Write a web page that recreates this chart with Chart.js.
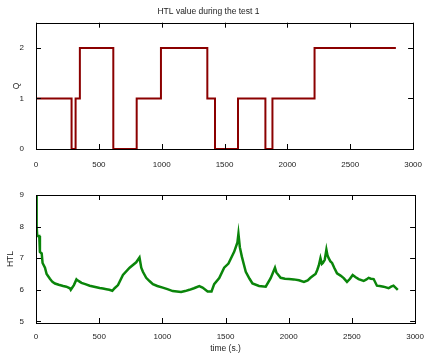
<!DOCTYPE html>
<html>
<head>
<meta charset="utf-8">
<script src="https://cdn.jsdelivr.net/npm/chart.js@4.4.0/dist/chart.umd.min.js"></script>
<style>
  html, body { margin: 0; padding: 0; background: #fff; }
  #wrap { position: relative; width: 425px; height: 356px; }
  #topBox { position: absolute; left: 0; top: 0; width: 425px; height: 170px; }
  #botBox { position: absolute; left: 0; top: 170px; width: 425px; height: 186px; }
</style>
</head>
<body>
<div id="wrap">
  <div id="topBox"><canvas id="qChart"></canvas></div>
  <div id="botBox"><canvas id="htlChart"></canvas></div>
</div>
<script>
// ----- data -----
const xTicks = [0, 500, 1000, 1500, 2000, 2500, 3000];
const qTicks = [0, 1, 2];
const htlTicks = [5, 6, 7, 8, 9];

// Q steps: each value holds from its time until the next time
const qTimes  = [0, 283, 315, 349, 615, 801, 994, 1363, 1424, 1607, 1825, 1881, 2216, 2863];
const qValues = [1, 0,   1,   2,   0,   1,   2,   1,    0,    1,    0,    1,    2,    2];

const htlTimes  = [0, 5, 10, 26, 31, 45, 52, 71, 84, 110, 130, 150, 180, 215, 240, 268, 275, 300, 320, 328, 345, 360, 390, 425, 460, 504, 530, 557, 580, 604,
                   622, 649, 688, 741, 793, 819, 833, 846, 872, 900, 925, 960, 1003, 1040, 1082, 1148, 1180, 1214, 1250, 1292, 1318, 1358, 1389,
                   1410, 1450, 1489, 1523, 1568, 1594, 1602, 1613, 1629, 1645, 1660, 1690, 1713, 1765, 1818, 1857, 1891, 1902,
                   1936, 1970, 2002, 2040, 2081, 2120, 2150, 2172, 2195, 2212, 2225, 2238, 2251, 2262, 2270, 2285, 2298, 2306, 2316, 2330, 2343, 2360, 2382, 2410, 2435, 2461,
                   2485, 2506, 2530, 2553, 2593, 2615, 2632, 2650, 2672, 2698, 2720, 2750, 2790, 2810, 2829, 2863];
const htlValues = [9.0, 8.0, 7.7, 7.7, 7.2, 7.15, 6.85, 6.7, 6.5, 6.35, 6.25, 6.2, 6.16, 6.12, 6.1, 6.05, 6.0, 6.15, 6.33, 6.3, 6.26, 6.22, 6.18, 6.13, 6.1, 6.06, 6.04, 6.02, 6.0, 5.97,
                   6.05, 6.15, 6.47, 6.7, 6.87, 7.02, 6.7, 6.57, 6.38, 6.27, 6.18, 6.12, 6.07, 6.02, 5.96, 5.93, 5.96, 6.0, 6.05, 6.12, 6.07, 5.95, 5.95,
                   6.18, 6.37, 6.7, 6.83, 7.2, 7.5, 7.77, 7.35, 7.05, 6.8, 6.57, 6.35, 6.2, 6.12, 6.1, 6.37, 6.7, 6.55,
                   6.38, 6.35, 6.34, 6.33, 6.3, 6.25, 6.3, 6.38, 6.45, 6.5, 6.62, 6.77, 7.0, 6.82, 6.85, 6.95, 7.27, 7.1, 7.0, 6.9, 6.85, 6.7, 6.52, 6.45, 6.37, 6.25,
                   6.35, 6.47, 6.4, 6.34, 6.28, 6.33, 6.38, 6.35, 6.34, 6.13, 6.12, 6.1, 6.05, 6.1, 6.13, 6.0];

const FONT = "'Liberation Sans', Arial, sans-serif";
const TEXT = '#222';
const TICK_FONT = { family: FONT, size: 8 };

// ----- box + inward ticks on all four sides, gnuplot style -----
const frame = {
  id: 'frame',
  afterDraw(chart) {
    const { ctx, chartArea: a, scales } = chart;
    ctx.save();
    ctx.strokeStyle = '#000';
    ctx.lineWidth = 1;
    ctx.strokeRect(Math.round(a.left) + 0.5, Math.round(a.top) + 0.5,
                   Math.round(a.right - a.left), Math.round(a.bottom - a.top));
    const len = 5;
    ctx.beginPath();
    scales.x.ticks.forEach(t => {
      const px = Math.round(scales.x.getPixelForValue(t.value)) + 0.5;
      ctx.moveTo(px, a.bottom); ctx.lineTo(px, a.bottom - len);
      ctx.moveTo(px, a.top); ctx.lineTo(px, a.top + len);
    });
    scales.y.ticks.forEach(t => {
      const py = Math.round(scales.y.getPixelForValue(t.value)) + 0.5;
      ctx.moveTo(a.left, py); ctx.lineTo(a.left + len, py);
      ctx.moveTo(a.right, py); ctx.lineTo(a.right - len, py);
    });
    ctx.stroke();
    ctx.restore();
  }
};

function xScale(height, pad, title) {
  return {
    type: 'linear', min: 0, max: 3000,
    grid: { display: false }, border: { display: false },
    afterBuildTicks: s => { s.ticks = xTicks.map(v => ({ value: v })); },
    afterFit: s => { s.height = height; },
    ticks: { color: TEXT, font: TICK_FONT, maxRotation: 0, autoSkip: false, padding: pad, callback: v => String(v) },
    title: title || { display: false }
  };
}

function yScale(min, max, tickVals, label, titlePad) {
  return {
    min, max,
    grid: { display: false }, border: { display: false },
    afterBuildTicks: s => { s.ticks = tickVals.map(v => ({ value: v })); },
    afterFit: s => { s.width = 36; },
    ticks: { color: TEXT, font: TICK_FONT, padding: 4, callback: v => String(v) },
    title: { display: true, text: label, color: TEXT, font: { family: FONT, size: 8.5 }, padding: { top: titlePad, bottom: 0 } }
  };
}

// ----- top chart: Q -----
new Chart(document.getElementById('qChart'), {
  type: 'line',
  data: {
    datasets: [{
      data: qTimes.map((t, i) => ({ x: t, y: qValues[i] })),
      borderColor: '#8b0000', borderWidth: 2, stepped: true, pointRadius: 0, fill: false
    }]
  },
  options: {
    responsive: true, maintainAspectRatio: false, animation: false,
    layout: { padding: { left: 0, right: 8, top: 0, bottom: 0 } },
    plugins: {
      legend: { display: false }, tooltip: { enabled: false },
      title: { display: true, text: 'HTL value during the test 1', color: TEXT,
               font: { family: FONT, size: 8.5, weight: 'normal' }, padding: { top: 7, bottom: 5.5 } }
    },
    scales: {
      x: xScale(21, 3),
      y: yScale(0, 2.5, qTicks, 'Q', 12)
    }
  },
  plugins: [frame]
});

// ----- bottom chart: HTL -----
new Chart(document.getElementById('htlChart'), {
  type: 'line',
  data: {
    datasets: [{
      data: htlTimes.map((t, i) => ({ x: t, y: htlValues[i] })),
      borderColor: '#0a850a', borderWidth: 2.5, pointRadius: 0, tension: 0, fill: false
    }]
  },
  options: {
    responsive: true, maintainAspectRatio: false, animation: false,
    layout: { padding: { left: 0, right: 8, top: 25, bottom: 0 } },
    plugins: { legend: { display: false }, tooltip: { enabled: false } },
    scales: {
      x: xScale(33, 1, { display: true, text: 'time (s.)', color: TEXT, font: { family: FONT, size: 8.5 }, padding: { top: 0, bottom: 2 } }),
      y: yScale(4.95, 9, htlTicks, 'HTL', 6)
    }
  },
  plugins: [frame]
});
</script>
</body>
</html>
